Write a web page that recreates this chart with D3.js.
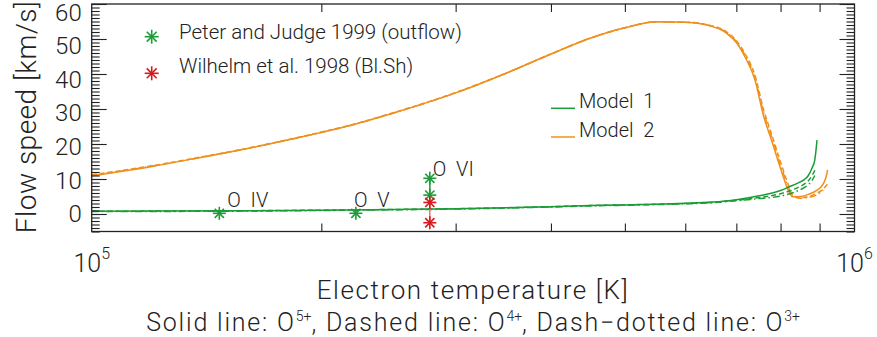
<!DOCTYPE html>
<html>
<head>
<meta charset="utf-8">
<script src="https://cdn.jsdelivr.net/npm/d3@7"></script>
<style>
  body { margin: 0; background: #fff; }
  svg text { font-family: Roboto, "DejaVu Sans", sans-serif; font-weight: 300; fill: #222; white-space: pre; }
</style>
</head>
<body>
<svg id="chart" width="877" height="337"></svg>
<script>
// ---- Model 1 (green): flow speed [km/s] vs electron temperature [K]
const tempM1O5 = [1.0e5, 1.5e5, 2.0e5, 2.5e5, 3.0e5, 3.5e5, 4.0e5, 4.5e5, 5.0e5, 5.5e5, 6.0e5, 6.5e5, 7.0e5, 7.5e5, 8.0e5, 8.2e5, 8.4e5, 8.6e5, 8.7e5, 8.8e5, 8.87e5, 8.93e5];
const speedM1O5 = [0.8, 0.9, 1.1, 1.3, 1.5, 1.8, 2.1, 2.4, 2.6, 2.8, 3.05, 3.4, 4.1, 5.2, 6.7, 7.7, 8.7, 9.9, 11.0, 13.2, 15.4, 21.1];
const tempM1O4 = [1.0e5, 1.5e5, 2.0e5, 2.5e5, 3.0e5, 3.5e5, 4.0e5, 4.5e5, 5.0e5, 5.5e5, 6.0e5, 6.5e5, 7.0e5, 7.5e5, 8.0e5, 8.2e5, 8.4e5, 8.6e5, 8.7e5, 8.8e5, 8.9e5];
const speedM1O4 = [0.8, 0.9, 1.1, 1.3, 1.5, 1.8, 2.1, 2.4, 2.6, 2.8, 3.0, 3.3, 3.9, 4.7, 5.8, 6.5, 7.4, 8.6, 9.5, 11.0, 13.1];
const tempM1O3 = [1.0e5, 1.5e5, 2.0e5, 2.5e5, 3.0e5, 3.5e5, 4.0e5, 4.5e5, 5.0e5, 5.5e5, 6.0e5, 6.5e5, 7.0e5, 7.5e5, 8.0e5, 8.2e5, 8.4e5, 8.6e5, 8.7e5, 8.8e5, 8.87e5];
const speedM1O3 = [0.7, 0.8, 1.0, 1.2, 1.4, 1.7, 2.0, 2.3, 2.5, 2.7, 2.9, 3.2, 3.8, 4.4, 5.1, 5.7, 6.5, 7.6, 8.4, 9.6, 11.0];

// ---- Model 2 (orange)
const tempM2O5 = [1.0e5, 1.2e5, 1.4e5, 1.6e5, 1.9e5, 2.2e5, 2.5e5, 3.0e5, 3.5e5, 4.0e5, 4.5e5, 5.0e5, 5.5e5, 6.0e5, 6.4e5, 6.8e5, 7.0e5, 7.2e5, 7.4e5, 7.6e5, 7.8e5, 8.0e5, 8.2e5, 8.3e5, 8.5e5, 8.7e5, 8.9e5, 9.1e5, 9.2e5, 9.22e5];
const speedM2O5 = [10.9, 13.6, 16.3, 18.7, 22.2, 25.5, 29.0, 34.6, 40.3, 45.7, 50.2, 53.2, 54.9, 54.8, 54.0, 51.6, 49.0, 44.5, 38.5, 28.0, 20.5, 13.0, 6.5, 4.9, 5.0, 5.6, 6.6, 8.6, 11.5, 12.6];
const tempM2O4 = [1.0e5, 1.2e5, 1.4e5, 1.6e5, 1.9e5, 2.2e5, 2.5e5, 3.0e5, 3.5e5, 4.0e5, 4.5e5, 5.0e5, 5.5e5, 6.0e5, 6.4e5, 6.8e5, 7.0e5, 7.2e5, 7.4e5, 7.6e5, 7.8e5, 8.0e5, 8.2e5, 8.3e5, 8.5e5, 8.7e5, 8.9e5, 9.1e5, 9.2e5, 9.22e5];
const speedM2O4 = [11.2, 13.8, 16.4, 18.8, 22.3, 25.6, 29.1, 34.7, 40.3, 45.7, 50.2, 53.2, 54.9, 54.8, 54.1, 52.0, 49.6, 45.5, 39.8, 29.8, 22.3, 14.8, 8.0, 5.3, 4.7, 5.0, 5.8, 7.2, 8.4, 8.8];
const tempM2O3 = [1.0e5, 1.2e5, 1.4e5, 1.6e5, 1.9e5, 2.2e5, 2.5e5, 3.0e5, 3.5e5, 4.0e5, 4.5e5, 5.0e5, 5.5e5, 6.0e5, 6.4e5, 6.8e5, 7.0e5, 7.2e5, 7.4e5, 7.6e5, 7.8e5, 8.0e5, 8.2e5, 8.3e5, 8.5e5, 8.7e5, 8.9e5, 9.1e5];
const speedM2O3 = [11.0, 13.7, 16.3, 18.7, 22.2, 25.5, 29.0, 34.6, 40.3, 45.7, 50.2, 53.2, 54.9, 54.8, 54.1, 51.8, 49.3, 45.0, 39.2, 29.0, 21.6, 14.0, 7.4, 5.1, 4.5, 4.7, 5.3, 6.9];

// ---- Observations
const ionNames = ["O  IV", "O  V", "O  VI"];
const ionTemps = [1.47e5, 2.22e5, 2.775e5];
const peterTemps = [1.47e5, 2.22e5, 2.775e5, 2.775e5];
const peterSpeeds = [0.2, 0.2, 10.2, 5.4];
const wilhelmTemps = [2.775e5, 2.775e5];
const wilhelmSpeeds = [3.3, -2.5];

// ---- Axes
const yMajorTicks = [0, 10, 20, 30, 40, 50, 60];
const yMinorTicks = d3.range(-5, 61, 1);
const xMinorTicks = [2e5, 3e5, 4e5, 5e5, 6e5, 7e5, 8e5, 9e5];
const xLabelTicks = [1e5, 1e6];

const GREEN = "#1c9c38", ORANGE = "#f0901c", RED = "#d8191c", INK = "#222";

const svg = d3.select("#chart");
const frame = { left: 91.7, right: 854.5, top: 4, bottom: 231.5 };
const x = d3.scaleLog().domain([1e5, 1e6]).range([frame.left, frame.right]);
const y = d3.scaleLinear().domain([-5, 60]).range([frame.bottom, frame.top]);

const plot = svg.append("g");
plot.append("clipPath").attr("id", "clip").append("rect")
  .attr("x", frame.left).attr("y", frame.top)
  .attr("width", frame.right - frame.left).attr("height", frame.bottom - frame.top);

// model curves
const line = d3.line().x(d => x(d[0])).y(d => y(d[1])).curve(d3.curveMonotoneX);
const zip = (a, b) => a.map((t, i) => [t, b[i]]);
const curves = [
  { pts: zip(tempM2O5, speedM2O5), color: ORANGE, dash: null },
  { pts: zip(tempM2O4, speedM2O4), color: ORANGE, dash: "5,3" },
  { pts: zip(tempM2O3, speedM2O3), color: ORANGE, dash: "7,3,1.5,3" },
  { pts: zip(tempM1O5, speedM1O5), color: GREEN, dash: null },
  { pts: zip(tempM1O4, speedM1O4), color: GREEN, dash: "5,3" },
  { pts: zip(tempM1O3, speedM1O3), color: GREEN, dash: "7,3,1.5,3" },
];
plot.append("g").attr("clip-path", "url(#clip)").selectAll("path").data(curves).join("path")
  .attr("d", d => line(d.pts))
  .attr("fill", "none")
  .attr("stroke", d => d.color)
  .attr("stroke-width", 1.5)
  .attr("stroke-dasharray", d => d.dash);

// asterisk symbol (plus and cross overlaid)
function star(g, cx, cy, r, color) {
  const s = g.append("g").attr("transform", `translate(${cx},${cy})`)
    .attr("stroke", color).attr("stroke-width", 1.6);
  const k = r * Math.SQRT1_2;
  [[-r, 0, r, 0], [0, -r, 0, r], [-k, -k, k, k], [-k, k, k, -k]].forEach(p =>
    s.append("line").attr("x1", p[0]).attr("y1", p[1]).attr("x2", p[2]).attr("y2", p[3]));
}

// measured ranges at O VI
const obs = svg.append("g");
obs.append("line")
  .attr("x1", x(wilhelmTemps[0])).attr("x2", x(wilhelmTemps[1]))
  .attr("y1", y(wilhelmSpeeds[0])).attr("y2", y(wilhelmSpeeds[1]))
  .attr("stroke", "#e87070").attr("stroke-width", 1.5);
obs.append("line")
  .attr("x1", x(peterTemps[2])).attr("x2", x(peterTemps[3]))
  .attr("y1", y(peterSpeeds[2])).attr("y2", y(peterSpeeds[3]))
  .attr("stroke", GREEN).attr("stroke-width", 1.5);
peterTemps.forEach((t, i) => star(obs, x(t), y(peterSpeeds[i]), 6.5, GREEN));
wilhelmTemps.forEach((t, i) => star(obs, x(t), y(wilhelmSpeeds[i]), 6.5, RED));

// ion labels
const ionLabelDx = [8, -2, 3];
ionNames.forEach((name, i) => {
  const t = ionTemps[i];
  const topSpeed = d3.max(peterTemps.map((pt, j) => pt === t ? peterSpeeds[j] : -Infinity));
  obs.append("text")
    .attr("x", x(t) + ionLabelDx[i])
    .attr("y", y(topSpeed) - (i === 2 ? 2 : 6))
    .attr("font-size", 20)
    .text(name);
});

// axes
const axes = svg.append("g");
function styleAxis(g) {
  g.select(".domain").remove();
  g.selectAll(".tick line").attr("stroke", INK).attr("stroke-width", 1.1);
}
axes.append("g").attr("transform", `translate(${frame.left},0)`)
  .call(d3.axisLeft(y).tickValues(yMinorTicks).tickSize(-8).tickFormat(""))
  .call(styleAxis);
axes.append("g").attr("transform", `translate(${frame.left},0)`)
  .call(d3.axisLeft(y).tickValues(yMajorTicks).tickSize(-15).tickPadding(10))
  .call(styleAxis)
  .call(g => g.selectAll(".tick text")
    .attr("font-family", null).attr("font-size", 24).attr("fill", INK)
    .attr("dy", null)
    .attr("y", d => 7.7 + d / 60 * 8.3));
axes.append("g").attr("transform", `translate(${frame.right},0)`)
  .call(d3.axisRight(y).tickValues(yMinorTicks).tickSize(-8).tickFormat(""))
  .call(styleAxis);
axes.append("g").attr("transform", `translate(${frame.right},0)`)
  .call(d3.axisRight(y).tickValues(yMajorTicks).tickSize(-15).tickFormat(""))
  .call(styleAxis);
axes.append("g").attr("transform", `translate(0,${frame.bottom})`)
  .call(d3.axisBottom(x).tickValues(xMinorTicks).tickSize(-8).tickFormat(""))
  .call(styleAxis);
axes.append("g").attr("transform", `translate(0,${frame.top})`)
  .call(d3.axisTop(x).tickValues(xMinorTicks).tickSize(-8).tickFormat(""))
  .call(styleAxis);
axes.append("rect")
  .attr("x", frame.left).attr("y", frame.top)
  .attr("width", frame.right - frame.left).attr("height", frame.bottom - frame.top)
  .attr("fill", "none").attr("stroke", INK).attr("stroke-width", 1.3);

// x tick labels as powers of ten
xLabelTicks.forEach(v => {
  const t = axes.append("text").attr("x", x(v)).attr("y", 272)
    .attr("text-anchor", "middle").attr("font-size", 25);
  t.append("tspan").text("10");
  t.append("tspan").attr("font-size", 16).attr("dy", -13).text(Math.round(Math.log10(v)));
});

// axis titles
svg.append("text").attr("transform", "translate(36,117) rotate(-90)")
  .attr("text-anchor", "middle").attr("font-size", 28).attr("letter-spacing", 0.5)
  .text("Flow speed [km/s]");
svg.append("text").attr("x", (frame.left + frame.right) / 2).attr("y", 299)
  .attr("text-anchor", "middle").attr("font-size", 26).attr("letter-spacing", 1.6)
  .text("Electron temperature [K]");
const note = svg.append("text").attr("x", (frame.left + frame.right) / 2).attr("y", 331)
  .attr("text-anchor", "middle").attr("font-size", 25).attr("letter-spacing", 1.8);
[["Solid line: O", "5+"], [", Dashed line: O", "4+"], [", Dash\u2212dotted line: O", "3+"]].forEach(([a, b], i) => {
  note.append("tspan").attr("dy", i === 0 ? 0 : 10).text(a);
  note.append("tspan").attr("font-size", 14).attr("letter-spacing", 0).attr("dy", -10).text(b);
});

// legend: observations
const legObs = svg.append("g");
[["Peter and Judge 1999 (outflow)", GREEN, 36.7, 39.3], ["Wilhelm et al. 1998 (Bl.Sh)", RED, 73.3, 73.3]]
  .forEach(([label, color, sy, ty]) => {
    star(legObs, 151.7, sy, 7, color);
    legObs.append("text").attr("x", 179).attr("y", ty).attr("font-size", 20.5).text(label);
  });

// legend: models
const legMod = svg.append("g");
[["Model  1", GREEN, 108.3], ["Model  2", ORANGE, 137]].forEach(([label, color, ly]) => {
  legMod.append("line").attr("x1", 551).attr("x2", 575).attr("y1", ly).attr("y2", ly)
    .attr("stroke", color).attr("stroke-width", 1.5);
  legMod.append("text").attr("x", 579).attr("y", ly).attr("font-size", 20).text(label);
});
</script>
</body>
</html>
